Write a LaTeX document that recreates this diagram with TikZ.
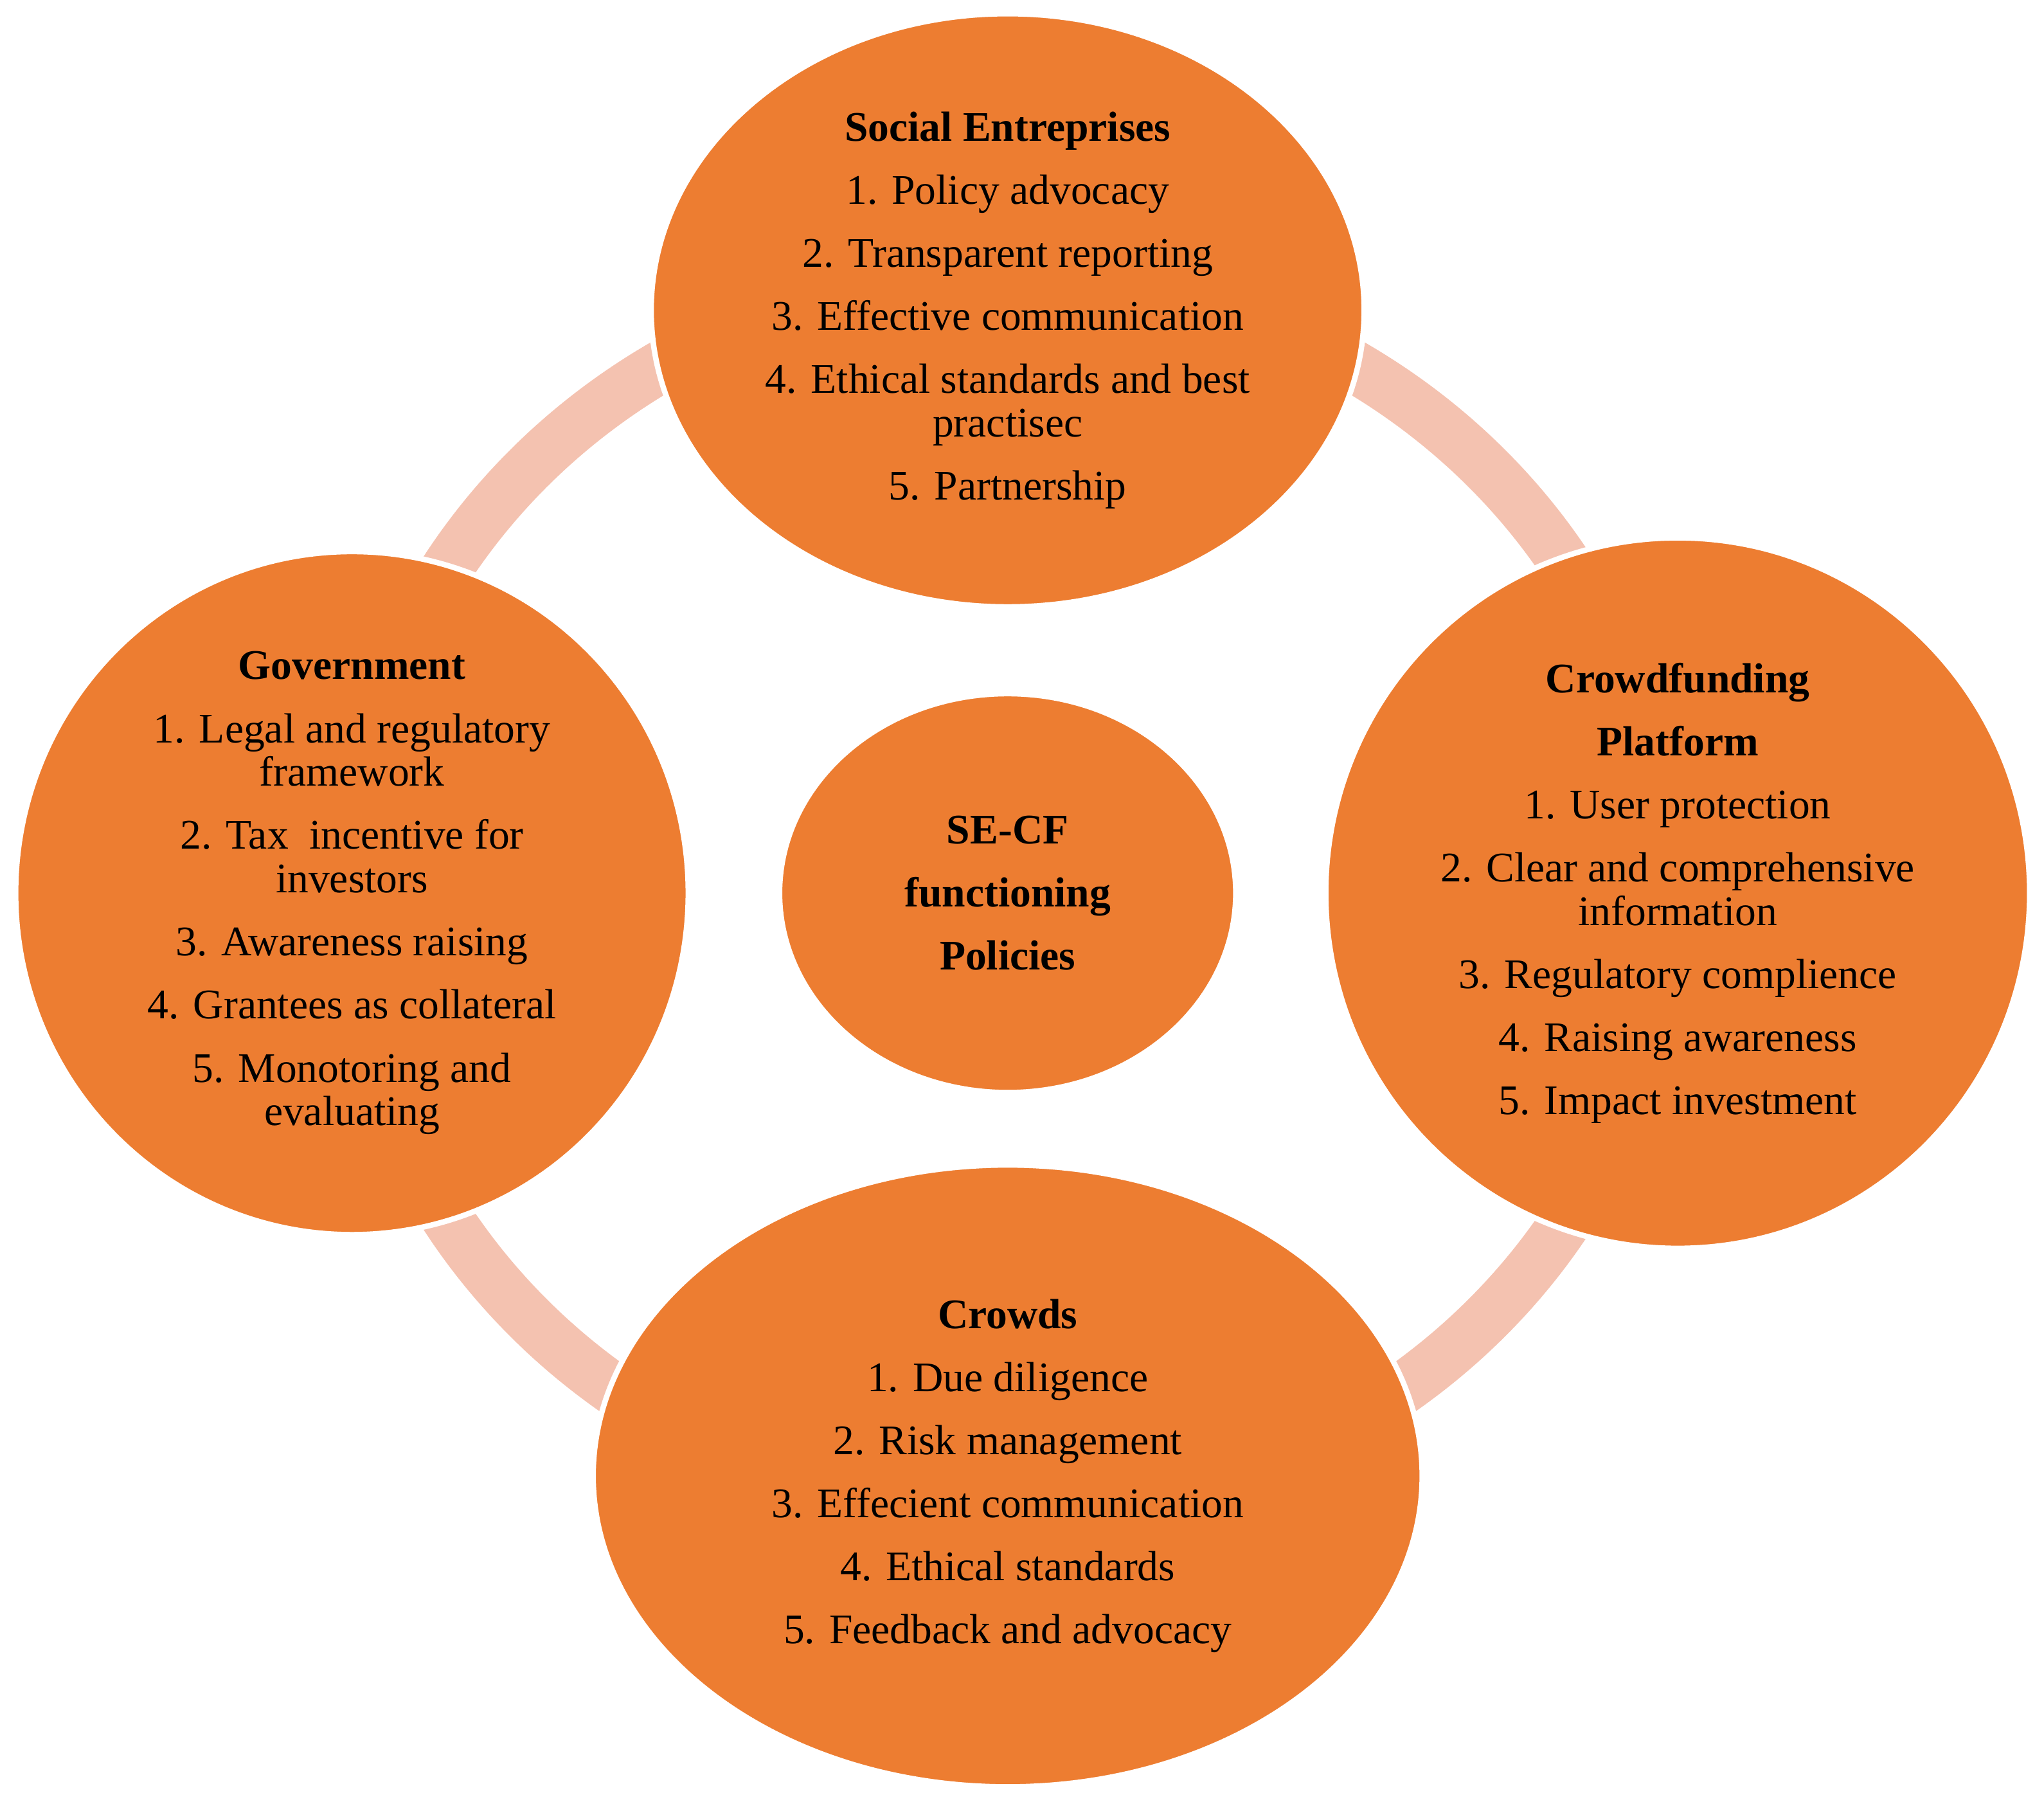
\documentclass[tikz,border=0pt]{standalone}
\usepackage{fontspec}
\setmainfont{Liberation Serif}
\usetikzlibrary{shapes.geometric}
\definecolor{secforange}{HTML}{ED7D31}
\definecolor{secfpink}{HTML}{F4C2B0}
\tikzstyle{actor} = [ellipse, draw=white, line width=1.2pt, fill=secforange, inner sep=0pt, align=center, font=\fontsize{9.2}{9.5}\selectfont]
\tikzstyle{ring} = [secfpink, line width=0.4cm]
\begin{document}
\begin{tikzpicture}
		\useasboundingbox (0,0) rectangle (15.68,13.82);
		\coordinate (hub) at (7.73,6.97);
		% Ring behind the actors
		\draw[ring] (hub) ellipse (5.05cm and 4.75cm);
		% Actors
		\node[actor, minimum width=5.47cm, minimum height=4.55cm] (se) at (7.73,11.44) {\textbf{Social Entreprises}\\[0.15cm]
			1. Policy advocacy\\[0.15cm] 2. Transparent reporting\\[0.15cm] 3. Effective communication\\[0.15cm]
			4. Ethical standards and best\\ practisec\\[0.15cm] 5. Partnership};
		\node[actor, minimum width=5.16cm, minimum height=5.22cm] (gov) at (2.70,6.97) {\textbf{Government}\\[0.15cm]
			1. Legal and regulatory\\ framework\\[0.15cm] 2. Tax \ incentive for\\ investors\\[0.15cm]
			3. Awareness raising\\[0.15cm] 4. Grantees as collateral\\[0.15cm] 5. Monotoring and\\ evaluating};
		\node[actor, minimum width=5.40cm, minimum height=5.45cm] (cfp) at (12.87,6.97) {\textbf{Crowdfunding}\\[0.15cm] \textbf{Platform}\\[0.15cm]
			1. User protection\\[0.15cm] 2. Clear and comprehensive\\ information\\[0.15cm]
			3. Regulatory complience\\[0.15cm] 4. Raising awareness\\[0.15cm] 5. Impact investment};
		\node[actor, minimum width=6.36cm, minimum height=4.77cm] (crowd) at (7.73,2.50) {\textbf{Crowds}\\[0.15cm]
			1. Due diligence\\[0.15cm] 2. Risk management\\[0.15cm] 3. Effecient communication\\[0.15cm]
			4. Ethical standards\\[0.15cm] 5. Feedback and advocacy};
		% Centre
		\node[actor, minimum width=3.50cm, minimum height=3.06cm] (core) at (hub) {\textbf{SE-CF}\\[0.15cm] \textbf{functioning}\\[0.15cm] \textbf{Policies}};
\end{tikzpicture}
\end{document}
